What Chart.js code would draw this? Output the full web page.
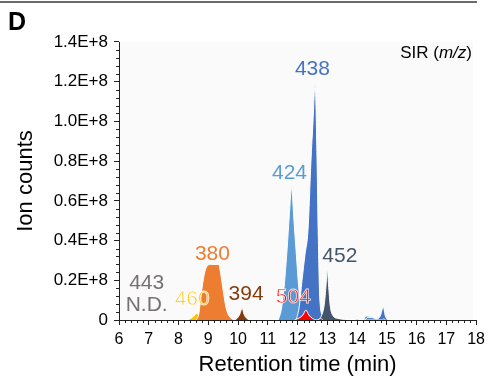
<!DOCTYPE html>
<html>
<head>
<meta charset="utf-8">
<script src="https://cdn.jsdelivr.net/npm/chart.js@4/dist/chart.umd.min.js"></script>
<style>
  html, body { margin: 0; padding: 0; background: #fff; }
  #wrap { width: 490px; height: 379px; position: relative; }
</style>
</head>
<body>
<div id="wrap"><canvas id="c" width="490" height="379"></canvas></div>
<script>
// ---------- DATA (retention time in min, ion counts in units of 1E+8) ----------
const xTickValues = [6, 7, 8, 9, 10, 11, 12, 13, 14, 15, 16, 17, 18];
const yTickLabels = ['0', '0.2E+8', '0.4E+8', '0.6E+8', '0.8E+8', '1.0E+8', '1.2E+8', '1.4E+8'];

const rt460 = [8.2, 8.35, 8.45, 8.55, 8.62, 8.68, 8.75];
const ic460 = [0, 0.004, 0.012, 0.025, 0.035, 0.02, 0];

const rt380 = [8.6, 8.68, 8.77, 8.88, 8.98, 9.1, 9.35, 9.42, 9.51, 9.6, 9.7, 9.85];
const ic380 = [0, 0.03, 0.14, 0.24, 0.275, 0.28, 0.28, 0.23, 0.14, 0.06, 0.02, 0];

const rt394 = [9.88, 9.98, 10.06, 10.14, 10.2, 10.28, 10.38];
const ic394 = [0, 0.01, 0.03, 0.06, 0.03, 0.01, 0];

const rt424 = [11.35, 11.45, 11.55, 11.65, 11.72, 11.8, 11.88, 11.95, 12.05, 12.15, 12.3, 14.2, 14.3, 14.45, 14.6, 14.7];
const ic424 = [0, 0.05, 0.17, 0.36, 0.52, 0.666, 0.5, 0.35, 0.15, 0.05, 0, 0, 0.02, 0.018, 0.01, 0];

const rt438 = [11.95, 12.05, 12.15, 12.25, 12.35, 12.45, 12.52, 12.59, 12.65, 12.7, 12.75, 12.85, 13.0, 14.25, 14.35, 14.5, 14.65, 14.78, 14.88, 14.95, 15.02];
const ic438 = [0, 0.06, 0.2, 0.33, 0.45, 0.8, 1.0, 1.19, 0.85, 0.4, 0.1, 0.02, 0, 0, 0.012, 0.012, 0.005, 0.02, 0.065, 0.02, 0];

const rt452 = [12.7, 12.8, 12.9, 12.96, 13.0, 13.04, 13.1, 13.2, 13.35, 13.6, 13.95, 14.0, 14.05, 14.85, 14.9, 14.95];
const ic452 = [0, 0.02, 0.08, 0.18, 0.26, 0.18, 0.07, 0.02, 0.008, 0.003, 0, 0.005, 0, 0, 0.006, 0];

const rt504 = [11.9, 12.05, 12.18, 12.28, 12.38, 12.5, 12.65, 12.72, 12.77, 12.85];
const ic504 = [0, 0.01, 0.025, 0.05, 0.025, 0.008, 0, 0.004, 0.008, 0];

const peakLabels = ['443', 'N.D.', '460', '380', '394', '424', '438', '452', '504'];
const labelRT = [6.93, 6.93, 8.46, 9.14, 10.27, 11.73, 12.5, 13.42, 11.86];
const labelIC = [0.185, 0.074, 0.105, 0.333, 0.131, 0.739, 1.265, 0.322, 0.117];

// ---------- STYLE ----------
const FONT = '"Liberation Sans", Arial, Helvetica, sans-serif';
const C = {
  c443: '#767171', c460: '#ffc000', c380: '#ed7d31', c394: '#843c0c',
  c424: '#5b9bd5', c438: '#4472c4', c452: '#44546a', c504: '#ff0000'
};
const labelColors = [C.c443, C.c443, C.c460, C.c380, C.c394, C.c424, C.c438, C.c452, C.c504];
const labelHollow = [false, false, true, false, false, false, false, false, true];

function pts(xs, ys) { return xs.map((x, i) => ({ x: x, y: ys[i] })); }
function ds(xs, ys, color) {
  return {
    data: pts(xs, ys), fill: 'origin', backgroundColor: color,
    borderColor: '#ffffff', borderWidth: 1, pointRadius: 0,
    cubicInterpolationMode: 'monotone'
  };
}

// first dataset is drawn on top
const datasets = [
  ds(rt504, ic504, C.c504),
  ds(rt452, ic452, C.c452),
  ds(rt438, ic438, C.c438),
  ds(rt424, ic424, C.c424),
  ds(rt394, ic394, C.c394),
  ds(rt380, ic380, C.c380),
  ds(rt460, ic460, C.c460)
];

const decor = {
  id: 'decor',
  beforeDraw(chart) {
    const { ctx, chartArea: a } = chart;
    ctx.save();
    ctx.fillStyle = '#fafafa';
    ctx.fillRect(a.left, a.top, a.right - a.left - 3, a.bottom - a.top);
    ctx.fillStyle = '#6b6b6b';
    ctx.fillRect(0, 1, 477, 2);
    ctx.fillStyle = '#000';
    ctx.font = 'bold 25px ' + FONT;
    ctx.textBaseline = 'alphabetic';
    ctx.textAlign = 'left';
    ctx.fillText('D', 8, 30);
    ctx.restore();
  },
  afterDraw(chart) {
    const { ctx, chartArea: a, scales: { x, y } } = chart;
    ctx.save();
    // minor ticks
    ctx.strokeStyle = '#222';
    ctx.lineWidth = 1;
    ctx.beginPath();
    for (let k = 0; k <= 60; k++) {
      if (k % 5 === 0) continue;
      const px = Math.round(x.getPixelForValue(6 + k * 0.2)) + 0.5;
      ctx.moveTo(px, a.bottom); ctx.lineTo(px, a.bottom + 3);
    }
    for (let k = 0; k <= 35; k++) {
      if (k % 5 === 0) continue;
      const py = Math.round(y.getPixelForValue(k * 0.04)) + 0.5;
      ctx.moveTo(a.left, py); ctx.lineTo(a.left - 3, py);
    }
    ctx.stroke();
    // peak labels
    ctx.font = '21px ' + FONT;
    ctx.textAlign = 'center';
    ctx.textBaseline = 'middle';
    peakLabels.forEach((t, i) => {
      const px = x.getPixelForValue(labelRT[i]);
      const py = y.getPixelForValue(labelIC[i]);
      ctx.fillStyle = labelColors[i];
      ctx.fillText(t, px, py);
      if (labelHollow[i]) {
        ctx.strokeStyle = 'rgba(255,255,255,0.85)';
        ctx.lineWidth = 0.8;
        ctx.strokeText(t, px, py);
      }
    });
    // SIR (m/z)
    ctx.fillStyle = '#000';
    ctx.textAlign = 'left';
    ctx.font = '17px ' + FONT;
    const p1 = 'SIR (', p3 = ')';
    ctx.font = 'italic 17px ' + FONT;
    const w2 = ctx.measureText('m/z').width;
    ctx.font = '17px ' + FONT;
    const w1 = ctx.measureText(p1).width, w3 = ctx.measureText(p3).width;
    let sx = 472 - (w1 + w2 + w3);
    ctx.fillText(p1, sx, 53);
    ctx.font = 'italic 17px ' + FONT;
    ctx.fillText('m/z', sx + w1, 53);
    ctx.font = '17px ' + FONT;
    ctx.fillText(p3, sx + w1 + w2, 53);
    ctx.restore();
  }
};

new Chart(document.getElementById('c'), {
  type: 'line',
  data: { datasets: datasets },
  options: {
    responsive: false,
    animation: false,
    events: [],
    layout: { padding: { left: 0, top: 42, right: 9, bottom: 0 } },
    plugins: { legend: { display: false }, tooltip: { enabled: false } },
    scales: {
      x: {
        type: 'linear', min: 6, max: 18, z: 1,
        afterFit(s) { s.height = 59; },
        afterBuildTicks(s) { s.ticks = xTickValues.map(v => ({ value: v })); },
        border: { color: '#222', width: 1 },
        grid: { drawOnChartArea: false, tickLength: 5, color: '#222' },
        ticks: {
          color: '#000', font: { size: 16, family: FONT }, padding: 5,
          maxRotation: 0, autoSkip: false,
          callback: (v) => String(v)
        },
        title: {
          display: true, text: 'Retention time (min)', color: '#000',
          font: { size: 22, family: FONT }, padding: { top: 0, bottom: 1 }
        }
      },
      y: {
        type: 'linear', min: 0, max: 1.4, z: 1,
        afterFit(s) { s.width = 119; },
        afterBuildTicks(s) { s.ticks = yTickLabels.map((t, i) => ({ value: i * 0.2 })); },
        border: { color: '#222', width: 1 },
        grid: { drawOnChartArea: false, tickLength: 5, color: '#222' },
        ticks: {
          color: '#000', font: { size: 17, family: FONT }, padding: 6,
          callback: (v, i) => yTickLabels[i]
        },
        title: {
          display: true, text: 'Ion counts', color: '#000',
          font: { size: 22, family: FONT }, padding: { top: 13, bottom: 0 }
        }
      }
    }
  },
  plugins: [decor]
});
</script>
</body>
</html>
